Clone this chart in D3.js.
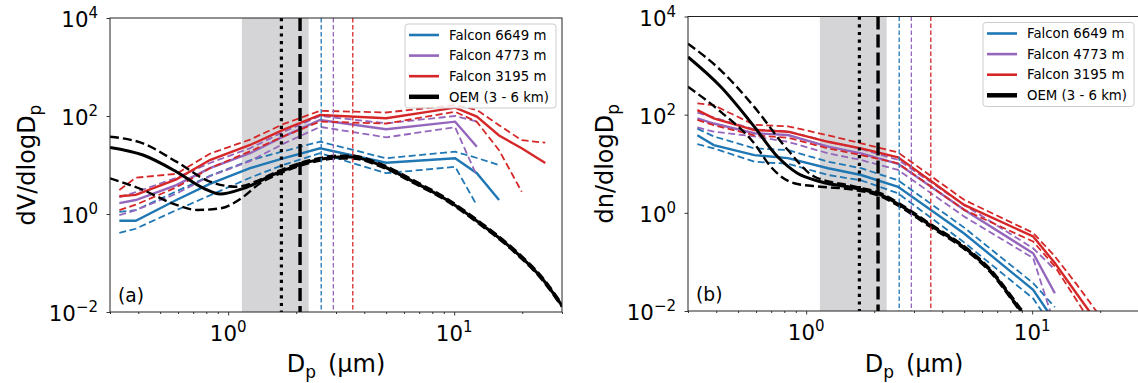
<!DOCTYPE html>
<html>
<head>
<meta charset="utf-8">
<script src="https://cdn.jsdelivr.net/npm/d3@7"></script>
<style>
  body { margin: 0; background: #fff; }
  text { font-family: "DejaVu Sans", sans-serif; fill: #000; }
</style>
</head>
<body>
<div id="chart"></div>
<script>
// Falcon size bins (um)
const falconD = [0.33, 0.39, 0.59, 0.83, 1.25, 1.75, 2.55, 5.0, 10.1, 12.6, 15.8, 19.9, 25.3];

// panel (a) dV/dlogDp
const aBlue     = [0.73, 0.73, 1.93, 4.1, 8.6, 13.7, 21.9, 11.1, 13.7, 6.8, 1.93];
const aBlueHi   = [1.1, 1.2, 2.9, 6.0, 12.5, 19, 30, 13.7, 18.7, 13.9, 10];
const aBlueLo   = [0.41, 0.5, 1.2, 2.4, 5.5, 10, 17.4, 6.8, 9.2, 1.5];
const aPurple   = [1.67, 1.93, 3.9, 8.6, 17.4, 37.8, 83, 53.5, 76.6, 23.6];
const aPurpleHi = [2.2, 2.8, 5.5, 11, 22, 47, 100, 71, 100, 77];
const aPurpleLo = [0.95, 1.2, 2.6, 5.9, 12, 27, 60, 36.7, 58.8, 6];
const aRed      = [2.3, 2.45, 5.1, 12.6, 25.6, 52, 105, 90, 148, 97, 40, 22, 11];
const aRedHi    = [3.1, 5.5, 6.6, 17, 33, 68, 128, 118, 167, 133, 65, 32, 28.5];
const aRedLo    = [1.2, 1.55, 3.5, 8.6, 19, 38, 77, 70, 122, 76, 20, 2.85];

const aOemD    = [0.3, 0.42, 0.59, 0.78, 0.92, 1.17, 1.64, 2.3, 3.1, 3.5, 4.7, 6.6, 9.3, 13, 18.3, 24.8, 30];
const aOem     = [22.9, 16, 7.3, 3.34, 2.56, 3.34, 6.8, 11.7, 14.5, 14.5, 10, 4.57, 1.93, 0.646, 0.184, 0.045, 0.0135];
const aOemHiD  = [0.3, 0.42, 0.59, 0.83, 1.09, 1.38, 1.64, 2.3, 3.1, 3.5, 4.7, 6.6, 9.3, 13, 18.3, 24.8, 30];
const aOemHi   = [37.8, 27.6, 11.7, 4.57, 3.6, 5, 7.3, 12.5, 15.5, 15.5, 10.7, 4.9, 2.05, 0.69, 0.196, 0.048, 0.0145];
const aOemLoD  = [0.3, 0.42, 0.59, 0.73, 0.92, 1.17, 1.38, 1.64, 2.3, 3.1, 3.5, 4.7, 6.6, 9.3, 13, 18.3, 24.8, 30];
const aOemLo   = [5.34, 3.09, 1.53, 1.21, 1.3, 2.26, 4.2, 6.3, 11, 13.6, 13.6, 9.4, 4.3, 1.82, 0.61, 0.173, 0.042, 0.0127];

// panel (b) dn/dlogDp
const bBlue     = [38, 24, 15, 13, 8.1, 5.9, 3.4, 0.38, 0.027, 0.006];
const bBlueHi   = [52, 36, 20.6, 19, 11, 8.1, 4.6, 0.5, 0.037, 0.012];
const bBlueLo   = [25, 20.6, 11, 10, 5.9, 4.6, 2.5, 0.25, 0.018, 0.004];
const bPurple   = [84, 66, 41.8, 38.5, 22.3, 16.3, 10, 1.15, 0.15, 0.023];
const bPurpleHi = [110, 88, 50, 46, 28, 20, 12, 1.45, 0.19, 0.07];
const bPurpleLo = [55, 45, 36, 28, 16.3, 11.9, 7.5, 0.84, 0.12, 0.005];
const bRed      = [124, 84, 48.6, 45, 28, 20.6, 13.5, 1.45, 0.33, 0.095, 0.022, 0.005];
const bRedHi    = [170, 156, 62, 58, 38, 26, 17, 1.84, 0.39, 0.13, 0.034, 0.008];
const bRedLo    = [78, 61, 38, 34, 20.6, 15, 10.2, 1.15, 0.26, 0.081, 0.016, 0.003];

const bOemD    = [0.3, 0.419, 0.589, 0.746, 0.915, 1.16, 1.63, 2.14, 2.59, 3.51, 4.93, 6.48, 8.8, 10];
const bOem     = [1500, 370, 57, 14, 6.4, 4.3, 3.2, 2.32, 1.45, 0.57, 0.207, 0.069, 0.011, 0.005];
const bOemHiD  = [0.3, 0.419, 0.589, 0.83, 1.085, 1.63, 2.14, 2.59, 3.51, 4.93, 6.48, 8.8, 10];
const bOemHi   = [2800, 800, 144, 19, 5.5, 3.45, 2.5, 1.55, 0.61, 0.22, 0.074, 0.012, 0.0055];
const bOemLoD  = [0.3, 0.419, 0.589, 0.697, 0.885, 1.16, 1.63, 2.14, 2.59, 3.51, 4.93, 6.48, 8.8, 10];
const bOemLo   = [370, 114, 26, 8.7, 4.0, 3.4, 2.95, 2.15, 1.35, 0.53, 0.193, 0.064, 0.0102, 0.0046];

// shaded range and vertical markers (um)
const band = [1.15, 2.27];
const vDotted = 1.72, vDashed = 2.08;
const vColored = [2.58, 2.92, 3.56];

const legendLabels = ["Falcon 6649 m", "Falcon 4773 m", "Falcon 3195 m", "OEM (3 - 6 km)"];
const colors = ["#1f77b4", "#9467bd", "#d62728", "#000000"];

const yTicks = [1e-2, 1e0, 1e2, 1e4];
const yTickExp = ["\u22122", "0", "2", "4"];
const xTicks = [1, 10];
const xTickExp = ["0", "1"];
const xMinor = [0.3, 0.4, 0.5, 0.6, 0.7, 0.8, 0.9, 2, 3, 4, 5, 6, 7, 8, 9, 20, 30];

const svg = d3.select("#chart").append("svg")
  .attr("width", 1138).attr("height", 383);

function drawPanel(cfg) {
  const x = d3.scaleLog().domain([0.3, 30]).range([cfg.left, cfg.right]);
  const y = d3.scaleLog().domain([1e-2, 1e4]).range([cfg.bottom, cfg.top]);
  const g = svg.append("g");

  const clipId = "clip" + cfg.tag;
  svg.append("clipPath").attr("id", clipId).append("rect")
    .attr("x", cfg.left).attr("y", cfg.top)
    .attr("width", cfg.right - cfg.left).attr("height", cfg.bottom - cfg.top);

  const plot = g.append("g").attr("clip-path", `url(#${clipId})`);

  // shaded band
  plot.append("rect")
    .attr("x", x(band[0])).attr("width", x(band[1]) - x(band[0]))
    .attr("y", cfg.top).attr("height", cfg.bottom - cfg.top)
    .attr("fill", "#d5d5d7");

  const lin = d3.line().x(d => x(d[0])).y(d => y(d[1]));
  const smooth = d3.line().x(d => x(d[0])).y(d => y(d[1])).curve(d3.curveMonotoneX);

  // Falcon profiles
  cfg.falcon.forEach((s, i) => {
    [s.hi, s.lo].forEach(arr => {
      plot.append("path")
        .datum(arr.map((v, k) => [falconD[k], v]))
        .attr("d", lin).attr("fill", "none")
        .attr("stroke", colors[i]).attr("stroke-width", 1.8)
        .attr("stroke-dasharray", "7,3.5");
    });
    plot.append("path")
      .datum(s.mid.map((v, k) => [falconD[k], v]))
      .attr("d", lin).attr("fill", "none")
      .attr("stroke", colors[i]).attr("stroke-width", 2.4);
  });

  // OEM retrieval
  const o = cfg.oem;
  [[o.hiD, o.hi], [o.loD, o.lo]].forEach(([dd, vv]) => {
    plot.append("path")
      .datum(dd.map((d, k) => [d, vv[k]]))
      .attr("d", smooth).attr("fill", "none")
      .attr("stroke", "#000").attr("stroke-width", 2.4)
      .attr("stroke-dasharray", "9,4");
  });
  plot.append("path")
    .datum(o.d.map((d, k) => [d, o.v[k]]))
    .attr("d", smooth).attr("fill", "none")
    .attr("stroke", "#000").attr("stroke-width", 3);

  // vertical markers
  vColored.forEach((v, i) => {
    plot.append("line")
      .attr("x1", x(v)).attr("x2", x(v)).attr("y1", cfg.top).attr("y2", cfg.bottom)
      .attr("stroke", colors[i]).attr("stroke-width", 1.3)
      .attr("stroke-dasharray", "4.5,2.5");
  });
  plot.append("line")
    .attr("x1", x(vDotted)).attr("x2", x(vDotted)).attr("y1", cfg.top).attr("y2", cfg.bottom)
    .attr("stroke", "#000").attr("stroke-width", 3.2)
    .attr("stroke-dasharray", "3.2,4.5");
  plot.append("line")
    .attr("x1", x(vDashed)).attr("x2", x(vDashed)).attr("y1", cfg.top).attr("y2", cfg.bottom)
    .attr("stroke", "#000").attr("stroke-width", 3.4)
    .attr("stroke-dasharray", "13,5");

  // axes
  const gx = g.append("g").attr("transform", `translate(0,${cfg.bottom})`)
    .call(d3.axisBottom(x).tickValues(xTicks).tickSize(3.5).tickFormat(""));
  gx.select(".domain").remove();
  const gxm = g.append("g").attr("transform", `translate(0,${cfg.bottom})`)
    .call(d3.axisBottom(x).tickValues(xMinor).tickSize(2).tickFormat(""));
  gxm.select(".domain").remove();
  const gy = g.append("g").attr("transform", `translate(${cfg.left},0)`)
    .call(d3.axisLeft(y).tickValues(yTicks).tickSize(3.5).tickFormat(""));
  gy.select(".domain").remove();
  g.selectAll(".tick line").attr("stroke", "#222").attr("stroke-width", 0.9);

  // frame
  g.append("rect")
    .attr("x", cfg.left).attr("y", cfg.top)
    .attr("width", cfg.right - cfg.left).attr("height", cfg.bottom - cfg.top)
    .attr("fill", "none").attr("stroke", "#222").attr("stroke-width", 1);

  // tick labels
  xTicks.forEach((t, i) => {
    const tx = g.append("text").attr("x", x(t)).attr("y", cfg.bottom + 29)
      .attr("text-anchor", "middle").style("font-size", "21.3px");
    tx.append("tspan").text("10");
    tx.append("tspan").attr("dy", -9).style("font-size", "15px").text(xTickExp[i]);
  });
  yTicks.forEach((t, i) => {
    const ty = g.append("text").attr("x", cfg.left - 12).attr("y", y(t) + 9)
      .attr("text-anchor", "end").style("font-size", "21.3px");
    ty.append("tspan").text("10");
    ty.append("tspan").attr("dy", -9).style("font-size", "15px").text(yTickExp[i]);
  });

  // axis labels
  const cx = (cfg.left + cfg.right) / 2;
  const xl = g.append("text").attr("x", cx).attr("y", 372)
    .attr("text-anchor", "middle").style("font-size", "24px");
  xl.append("tspan").text("D");
  xl.append("tspan").attr("dy", 6).style("font-size", "17px").text("p");
  xl.append("tspan").attr("dy", -6).text("\u2002(\u03bcm)");

  const cy = (cfg.top + cfg.bottom) / 2;
  const lx = cfg.left - 75;
  const yl = g.append("text")
    .attr("transform", `translate(${lx},${cy}) rotate(-90)`)
    .attr("text-anchor", "middle").style("font-size", "24px");
  yl.append("tspan").text(cfg.ylab);
  yl.append("tspan").attr("dy", 6).style("font-size", "17px").text("p");

  // panel letter
  g.append("text").attr("x", cfg.left + 8).attr("y", cfg.bottom - 10)
    .style("font-size", "18.7px").text(cfg.letter);

  // legend
  const lg = g.append("g").attr("transform", `translate(${cfg.right - 157},${cfg.top + 6})`);
  lg.append("rect").attr("width", 151).attr("height", 84).attr("rx", 3)
    .attr("fill", "#fff").attr("fill-opacity", 0.85)
    .attr("stroke", "#cccccc").attr("stroke-width", 1);
  legendLabels.forEach((lab, i) => {
    const ly = 11 + i * 20.6;
    lg.append("line").attr("x1", 4).attr("x2", 34).attr("y1", ly).attr("y2", ly)
      .attr("stroke", colors[i]).attr("stroke-width", i === 3 ? 4.5 : 2.6);
    lg.append("text").attr("x", 44).attr("y", ly + 4.7)
      .style("font-size", "13.3px").text(lab);
  });
}

drawPanel({
  tag: "a", left: 110, right: 562, top: 18, bottom: 312,
  letter: "(a)", ylab: "dV/dlogD",
  falcon: [
    { mid: aBlue, hi: aBlueHi, lo: aBlueLo },
    { mid: aPurple, hi: aPurpleHi, lo: aPurpleLo },
    { mid: aRed, hi: aRedHi, lo: aRedLo }
  ],
  oem: { d: aOemD, v: aOem, hiD: aOemHiD, hi: aOemHi, loD: aOemLoD, lo: aOemLo }
});

drawPanel({
  tag: "b", left: 688, right: 1140, top: 16.5, bottom: 311,
  letter: "(b)", ylab: "dn/dlogD",
  falcon: [
    { mid: bBlue, hi: bBlueHi, lo: bBlueLo },
    { mid: bPurple, hi: bPurpleHi, lo: bPurpleLo },
    { mid: bRed, hi: bRedHi, lo: bRedLo }
  ],
  oem: { d: bOemD, v: bOem, hiD: bOemHiD, hi: bOemHi, loD: bOemLoD, lo: bOemLo }
});
</script>
</body>
</html>
